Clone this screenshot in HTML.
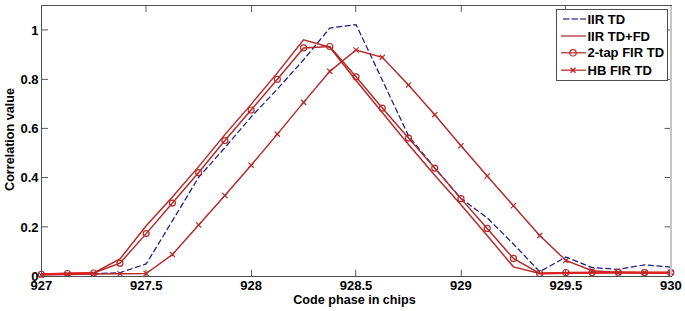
<!DOCTYPE html><html><head><meta charset="utf-8"><style>html,body{margin:0;padding:0;background:#fff;}svg{display:block;}text{font-family:"Liberation Sans",sans-serif;font-weight:bold;fill:#000;}</style></head><body>
<svg width="685" height="311" viewBox="0 0 685 311">
<rect width="685" height="311" fill="#fff"/>
<path d="M146.00,276.5v-6.8M146.00,5.5v6.5M251.50,276.5v-6.8M251.50,5.5v6.5M355.70,276.5v-6.8M355.70,5.5v6.5M461.30,276.5v-6.8M461.30,5.5v6.5M565.50,276.5v-6.8M565.50,5.5v6.5M41.5,226.90h6.5M671.0,226.90h-6.5M41.5,177.50h6.5M671.0,177.50h-6.5M41.5,128.40h6.5M671.0,128.40h-6.5M41.5,79.40h6.5M671.0,79.40h-6.5M41.5,29.90h6.5M671.0,29.90h-6.5" stroke="#5a5a5a" stroke-width="1" fill="none"/>
<polyline points="41.28,274.23 67.51,273.98 93.74,273.74 119.97,272.75 146.20,263.89 172.43,220.81 198.66,177.23 224.89,147.68 251.12,116.91 277.35,89.09 303.58,59.79 329.81,28.03 356.04,24.58 382.27,79.98 408.50,135.87 434.73,167.87 460.96,198.40 487.19,217.85 513.42,243.95 539.65,271.77 565.88,257.00 592.11,267.58 618.34,269.31 644.57,264.87 670.80,267.09" fill="none" stroke="#1c1c84" stroke-width="1.25" stroke-dasharray="6,2.6"/>
<polyline points="41.28,274.23 67.51,273.74 93.74,273.00 119.97,258.97 146.20,225.73 172.43,196.92 198.66,166.64 224.89,134.64 251.12,104.35 277.35,72.84 303.58,39.85 329.81,47.23 356.04,80.47 382.27,112.48 408.50,144.48 434.73,175.26 460.96,204.80 487.19,235.58 513.42,266.84 539.65,273.49 565.88,273.25 592.11,273.00 618.34,272.75 644.57,273.00 670.80,273.00" fill="none" stroke="#b62828" stroke-width="1.45"/>
<polyline points="41.28,274.23 67.51,273.49 93.74,273.00 119.97,263.15 146.20,233.61 172.43,203.08 198.66,172.55 224.89,140.54 251.12,110.01 277.35,79.24 303.58,47.97 329.81,46.50 356.04,76.78 382.27,108.05 408.50,138.08 434.73,168.12 460.96,198.65 487.19,228.44 513.42,258.47 539.65,273.49 565.88,272.51 592.11,272.51 618.34,272.26 644.57,272.51 670.80,272.51" fill="none" stroke="#b62828" stroke-width="1.45"/>
<polyline points="41.28,274.97 67.51,274.48 93.74,273.98 119.97,273.74 146.20,273.49 172.43,254.53 198.66,224.99 224.89,195.45 251.12,165.16 277.35,134.14 303.58,102.38 329.81,71.36 356.04,49.94 382.27,57.33 408.50,84.90 434.73,114.69 460.96,145.71 487.19,176.00 513.42,205.79 539.65,235.58 565.88,260.44 592.11,270.78 618.34,272.51 644.57,272.51 670.80,272.51" fill="none" stroke="#b62828" stroke-width="1.45"/>
<polyline points="41.28,274.23 67.51,273.61 93.74,273.00" fill="none" stroke="#dd2222" stroke-width="2"/>
<polyline points="539.65,273.49 565.88,272.88 592.11,272.75 618.34,272.51 644.57,272.75 670.80,272.75" fill="none" stroke="#dd2222" stroke-width="2"/>
<g fill="none" stroke="#b62828" stroke-width="1.2"><circle cx="41.28" cy="274.23" r="3.0"/><circle cx="67.51" cy="273.49" r="3.0"/><circle cx="93.74" cy="273.00" r="3.0"/><circle cx="119.97" cy="263.15" r="3.0"/><circle cx="146.20" cy="233.61" r="3.0"/><circle cx="172.43" cy="203.08" r="3.0"/><circle cx="198.66" cy="172.55" r="3.0"/><circle cx="224.89" cy="140.54" r="3.0"/><circle cx="251.12" cy="110.01" r="3.0"/><circle cx="277.35" cy="79.24" r="3.0"/><circle cx="303.58" cy="47.97" r="3.0"/><circle cx="329.81" cy="46.50" r="3.0"/><circle cx="356.04" cy="76.78" r="3.0"/><circle cx="382.27" cy="108.05" r="3.0"/><circle cx="408.50" cy="138.08" r="3.0"/><circle cx="434.73" cy="168.12" r="3.0"/><circle cx="460.96" cy="198.65" r="3.0"/><circle cx="487.19" cy="228.44" r="3.0"/><circle cx="513.42" cy="258.47" r="3.0"/><circle cx="539.65" cy="273.49" r="3.0"/><circle cx="565.88" cy="272.51" r="3.0"/><circle cx="592.11" cy="272.51" r="3.0"/><circle cx="618.34" cy="272.26" r="3.0"/><circle cx="644.57" cy="272.51" r="3.0"/><circle cx="670.80" cy="272.51" r="3.0"/></g>
<path d="M38.68,272.37l5.2,5.2M38.68,277.57l5.2,-5.2M64.91,271.88l5.2,5.2M64.91,277.08l5.2,-5.2M91.14,271.38l5.2,5.2M91.14,276.58l5.2,-5.2M117.37,271.14l5.2,5.2M117.37,276.34l5.2,-5.2M143.60,270.89l5.2,5.2M143.60,276.09l5.2,-5.2M169.83,251.93l5.2,5.2M169.83,257.13l5.2,-5.2M196.06,222.39l5.2,5.2M196.06,227.59l5.2,-5.2M222.29,192.85l5.2,5.2M222.29,198.05l5.2,-5.2M248.52,162.56l5.2,5.2M248.52,167.76l5.2,-5.2M274.75,131.54l5.2,5.2M274.75,136.74l5.2,-5.2M300.98,99.78l5.2,5.2M300.98,104.98l5.2,-5.2M327.21,68.76l5.2,5.2M327.21,73.96l5.2,-5.2M353.44,47.34l5.2,5.2M353.44,52.54l5.2,-5.2M379.67,54.73l5.2,5.2M379.67,59.93l5.2,-5.2M405.90,82.30l5.2,5.2M405.90,87.50l5.2,-5.2M432.13,112.09l5.2,5.2M432.13,117.29l5.2,-5.2M458.36,143.11l5.2,5.2M458.36,148.31l5.2,-5.2M484.59,173.40l5.2,5.2M484.59,178.60l5.2,-5.2M510.82,203.19l5.2,5.2M510.82,208.39l5.2,-5.2M537.05,232.98l5.2,5.2M537.05,238.18l5.2,-5.2M563.28,257.84l5.2,5.2M563.28,263.04l5.2,-5.2M589.51,268.18l5.2,5.2M589.51,273.38l5.2,-5.2M615.74,269.91l5.2,5.2M615.74,275.11l5.2,-5.2M641.97,269.91l5.2,5.2M641.97,275.11l5.2,-5.2M668.20,269.91l5.2,5.2M668.20,275.11l5.2,-5.2" fill="none" stroke="#b62828" stroke-width="1.2"/>
<path d="M41.5,276.5V5.5H672.0M41.5,276.5H672.0" fill="none" stroke="#505050" stroke-width="1"/>
<path d="M671.0,6.0V276.0" fill="none" stroke="#c6c6c6" stroke-width="2"/>
<text x="41.28" y="290" font-size="13" text-anchor="middle">927</text>
<text x="146.20" y="290" font-size="13" text-anchor="middle">927.5</text>
<text x="251.12" y="290" font-size="13" text-anchor="middle">928</text>
<text x="356.04" y="290" font-size="13" text-anchor="middle">928.5</text>
<text x="460.96" y="290" font-size="13" text-anchor="middle">929</text>
<text x="565.88" y="290" font-size="13" text-anchor="middle">929.5</text>
<text x="670.80" y="290" font-size="13" text-anchor="middle">930</text>
<text x="38.5" y="280.80" font-size="13" text-anchor="end">0</text>
<text x="38.5" y="231.56" font-size="13" text-anchor="end">0.2</text>
<text x="38.5" y="182.32" font-size="13" text-anchor="end">0.4</text>
<text x="38.5" y="133.08" font-size="13" text-anchor="end">0.6</text>
<text x="38.5" y="83.84" font-size="13" text-anchor="end">0.8</text>
<text x="38.5" y="34.60" font-size="13" text-anchor="end">1</text>
<text x="354.5" y="304.3" font-size="12.6" text-anchor="middle">Code phase in chips</text>
<text transform="translate(14.4,139.5) rotate(-90)" x="0" y="0" font-size="12.6" text-anchor="middle">Correlation value</text>
<rect x="556.5" y="9.5" width="111.0" height="71.0" fill="#fff" stroke="#505050" stroke-width="1"/>
<line x1="563" y1="19.0" x2="586" y2="19.0" stroke="#5050a0" stroke-width="1.6" stroke-dasharray="6.5,2"/>
<line x1="561" y1="36.0" x2="586" y2="36.0" stroke="#b64444" stroke-width="1.4"/>
<line x1="561" y1="52.8" x2="586" y2="52.8" stroke="#b64444" stroke-width="1.4"/>
<line x1="561" y1="70.2" x2="586" y2="70.2" stroke="#b64444" stroke-width="1.4"/>
<circle cx="573" cy="52.8" r="3.2" fill="none" stroke="#c03030" stroke-width="1.2"/>
<path d="M570.5,67.7l5,5M570.5,72.7l5,-5" stroke="#d02020" stroke-width="1.3"/>
<text x="587.5" y="23.60" font-size="13">IIR TD</text>
<text x="587.5" y="40.60" font-size="13">IIR TD+FD</text>
<text x="587.5" y="57.40" font-size="13">2-tap FIR TD</text>
<text x="587.5" y="74.80" font-size="13">HB FIR TD</text>
</svg></body></html>
